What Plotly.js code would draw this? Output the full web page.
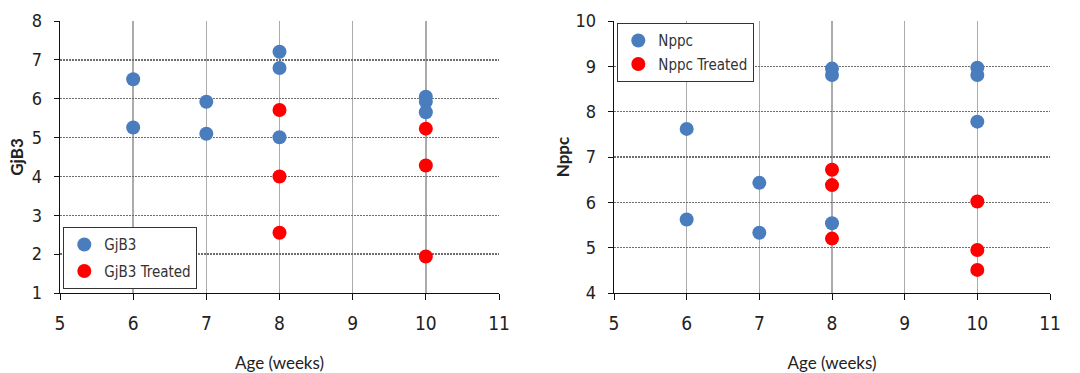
<!DOCTYPE html>
<html>
<head>
<meta charset="utf-8">
<script src="https://cdn.plot.ly/plotly-3.0.1.min.js"></script>
<style>html,body{margin:0;padding:0;background:#fff;}#chart{width:1080px;height:373px;}</style>
</head>
<body>
<div id="chart"></div>
<script>
// GjB3 panel
const gjb3Age = [6, 6, 7, 7, 8, 8, 8, 10, 10, 10];
const gjb3Val = [6.5, 5.26, 5.92, 5.1, 7.21, 6.79, 5.01, 6.05, 5.92, 5.65];
const gjb3TrAge = [8, 8, 8, 10, 10, 10];
const gjb3TrVal = [5.71, 4.0, 2.55, 5.23, 4.28, 1.94];
// Nppc panel
const nppcAge = [6, 6, 7, 7, 8, 8, 8, 10, 10, 10];
const nppcVal = [7.62, 5.62, 6.43, 5.33, 8.95, 8.81, 5.54, 8.97, 8.81, 7.78];
const nppcTrAge = [8, 8, 8, 10, 10, 10];
const nppcTrVal = [6.72, 6.38, 5.2, 6.02, 4.95, 4.51];
const names = ['GjB3', 'GjB3 Treated', 'Nppc', 'Nppc Treated'];
const xTitle = 'Age (weeks)';

const blue = '#4a7dbe';
const red = '#ff0000';

function tr(x, y, name, color, xa, ya, lg, grp) {
  return {x: x, y: y, name: name, type: 'scatter', mode: 'markers',
    xaxis: xa, yaxis: ya, legend: lg, legendgroup: grp,
    marker: {color: color, size: 14, line: {width: 0}}};
}

const data = [
  tr(gjb3Age, gjb3Val, names[0], blue, 'x', 'y', 'legend', 'a'),
  tr(gjb3TrAge, gjb3TrVal, names[1], red, 'x', 'y', 'legend', 'b'),
  tr(nppcAge, nppcVal, names[2], blue, 'x2', 'y2', 'legend2', 'c'),
  tr(nppcTrAge, nppcTrVal, names[3], red, 'x2', 'y2', 'legend2', 'd')
];

const narrow = 'Liberation Sans Narrow, DejaVu Sans Condensed, sans-serif';
const tickFontX = {family: narrow, size: 19, color: '#222'};
const tickFontY = {family: narrow, size: 18, color: '#222'};
const titleFont = {family: 'Lato, Open Sans, sans-serif', size: 17, color: '#222'};

function xax(domain, anchor, standoff) {
  return {domain: domain, anchor: anchor, range: [5, 11], dtick: 1, tick0: 5,
    showgrid: true, gridcolor: '#ababab', gridwidth: 1.6,
    showline: true, linecolor: '#111', linewidth: 1.3,
    ticks: 'outside', ticklen: 6, tickcolor: '#111', tickfont: tickFontX,
    ticklabelstandoff: 7, zeroline: false,
    title: {text: xTitle, font: titleFont, standoff: standoff}};
}
function yax(range, anchor, title, standoff) {
  return {domain: [0, 1], anchor: anchor, range: range, dtick: 1,
    showgrid: true, gridcolor: '#6e6e6e', gridwidth: 1.3, griddash: '2px,1px',
    showline: true, linecolor: '#111', linewidth: 1.3,
    ticks: 'outside', ticklen: 5, tickcolor: '#111', tickfont: tickFontY,
    ticklabelstandoff: 8, zeroline: false,
    title: {text: '<b>' + title + '</b>', font: titleFont, standoff: standoff}};
}

const legFont = {family: narrow, size: 15, color: '#333'};

const layout = {
  width: 1080, height: 373,
  margin: {l: 0, r: 0, t: 21, b: 80},
  paper_bgcolor: '#fff', plot_bgcolor: '#fff',
  showlegend: true,
  xaxis: xax([60/1080, 499/1080], 'y', 30),
  yaxis: yax([1, 8], 'x', 'GjB3', 3),
  xaxis2: xax([614/1080, 1050/1080], 'y2', 26),
  yaxis2: yax([4, 10], 'x2', 'Nppc', 1),
  legend: {x: 63/1080, y: (293-227)/272, xanchor: 'left', yanchor: 'top',
    bgcolor: '#fff', bordercolor: '#333', borderwidth: 1.3, font: legFont,
    tracegroupgap: 4, itemwidth: 30},
  legend2: {x: 617/1080, y: (293-23)/272, xanchor: 'left', yanchor: 'top',
    bgcolor: '#fff', bordercolor: '#333', borderwidth: 1.3, font: legFont,
    tracegroupgap: 1, itemwidth: 30}
};

Plotly.newPlot('chart', data, layout, {displayModeBar: false, staticPlot: true});
</script>
</body>
</html>
